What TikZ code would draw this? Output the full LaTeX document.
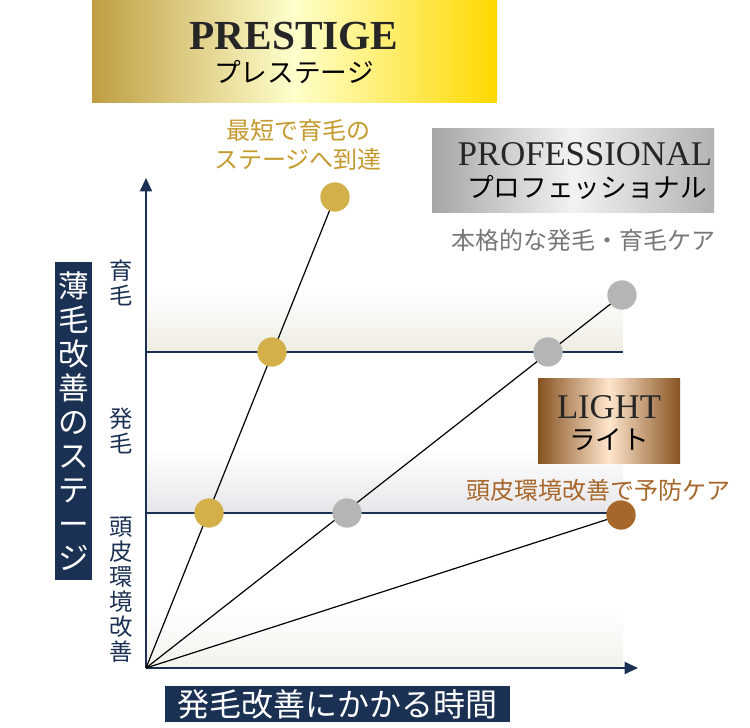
\documentclass[tikz,border=0pt]{standalone}
\usepackage{fontspec}
\newfontfamily\jp{Noto Sans CJK JP}
\setmainfont{Liberation Serif}
\usetikzlibrary{arrows.meta}
\definecolor{navy}{HTML}{1B3153}
\definecolor{gold}{HTML}{D4B04A}
\definecolor{goldtxt}{HTML}{C49A2E}
\definecolor{silver}{HTML}{B5B5B5}
\definecolor{greytxt}{HTML}{777777}
\definecolor{bronze}{HTML}{A8672A}
\definecolor{bandA}{HTML}{EEECE2}
\definecolor{bandB}{HTML}{E6E6EA}
\definecolor{bandC}{HTML}{F3F1EA}
\tikzset{
  dot/.style={circle,minimum size=22,inner sep=0},
  gdot/.style={dot,fill=gold},
  sdot/.style={dot,fill=silver},
  bdot/.style={dot,fill=bronze},
  ax/.style={navy,line width=1.4pt,-{Triangle[length=10pt,width=9pt]}},
  lvl/.style={navy,line width=1.2pt},
  ray/.style={black,line width=0.9pt},
  vlab/.style={navy,font=\jp\fontsize{17.5}{18.75}\selectfont,align=center,inner sep=0},
  captxt/.style={font=\jp\fontsize{18}{22}\selectfont,align=center},
  bj/.style={font=\jp\fontsize{20}{22}\selectfont},
}
\begin{document}
\begin{tikzpicture}[x=0.75pt,y=-0.75pt]
\useasboundingbox (0,0) rectangle (750,728);
% bands
\shade[top color=white,bottom color=bandA] (146,290) rectangle (623,352);
\shade[top color=white,bottom color=bandB] (146,450) rectangle (623,513);
\shade[top color=white,bottom color=bandC] (146,610) rectangle (623,668);
% banners
\shade[left color=gold!90!black,right color=yellow!70!orange,middle color=yellow!20] (92,0) rectangle (497,102);
\node[font=\bfseries\fontsize{31}{34}\selectfont,text=black!85] (pre) at (294,36) {PRESTIGE};
\node[bj] (prej) at (294,72) {プレステージ};
\shade[left color=black!35,right color=black!30,middle color=black!5] (432,128) rectangle (714,212);
\node[font=\fontsize{26}{30}\selectfont,text=black!85] (pro) at (585,154) {PROFESSIONAL};
\node[bj] (proj) at (587,187) {プロフェッショナル};
\shade[left color=bronze!80!black,right color=bronze!80!black,middle color=orange!20] (538,378) rectangle (680,463);
\node[font=\fontsize{26}{30}\selectfont,text=black!85] (li) at (609,407) {LIGHT};
\node[bj] (lij) at (609,440) {ライト};
% captions
\node[goldtxt,captxt] (c1) at (298,145) {最短で育毛の\\ステージへ到達};
\node[greytxt,captxt] (c2) at (583,240) {本格的な発毛・育毛ケア};
\node[bronze,captxt] (c3) at (598,490) {頭皮環境改善で予防ケア};
% axes
\coordinate (o) at (146,668);
\coordinate (yt) at (146,178);
\coordinate (xt) at (638,668);
\draw[ax] (o) -- (yt);
\draw[ax] (o) -- (xt);
\coordinate (l1a) at (146,352); \coordinate (l1b) at (623,352);
\coordinate (l2a) at (146,513); \coordinate (l2b) at (623,513);
\draw[lvl] (l1a) -- (l1b);
\draw[lvl] (l2a) -- (l2b);
% rays
\coordinate (p1) at (335,197);
\coordinate (p2) at (622,295);
\coordinate (p3) at (621,515);
\draw[ray] (o) -- (p1);
\draw[ray] (o) -- (p2);
\draw[ray] (o) -- (p3);
\node[gdot] (g1) at (p1) {};
\node[gdot] (g2) at (272,352) {};
\node[gdot] (g3) at (209,513) {};
\node[sdot] (s1) at (p2) {};
\node[sdot] (s2) at (548,352) {};
\node[sdot] (s3) at (347,513) {};
\node[bdot] (b1) at (p3) {};
% left labels
\node[vlab] (v1) at (121,283) {育\\毛};
\node[vlab] (v2) at (121,431) {発\\毛};
\node[vlab] (v3) at (121,590) {頭\\皮\\環\\境\\改\\善};
\fill[navy] (55,262) rectangle (92,580);
\node[white,font=\jp\fontsize{23}{25.5}\selectfont,align=center,inner sep=0] (vt) at (73.5,421) {薄\\毛\\改\\善\\の\\ス\\テ\\ー\\ジ};
\fill[navy] (165,686) rectangle (510,722);
\node[white,font=\jp\fontsize{24}{26}\selectfont] (ht) at (337.5,704) {発毛改善にかかる時間};
\end{tikzpicture}
\end{document}
